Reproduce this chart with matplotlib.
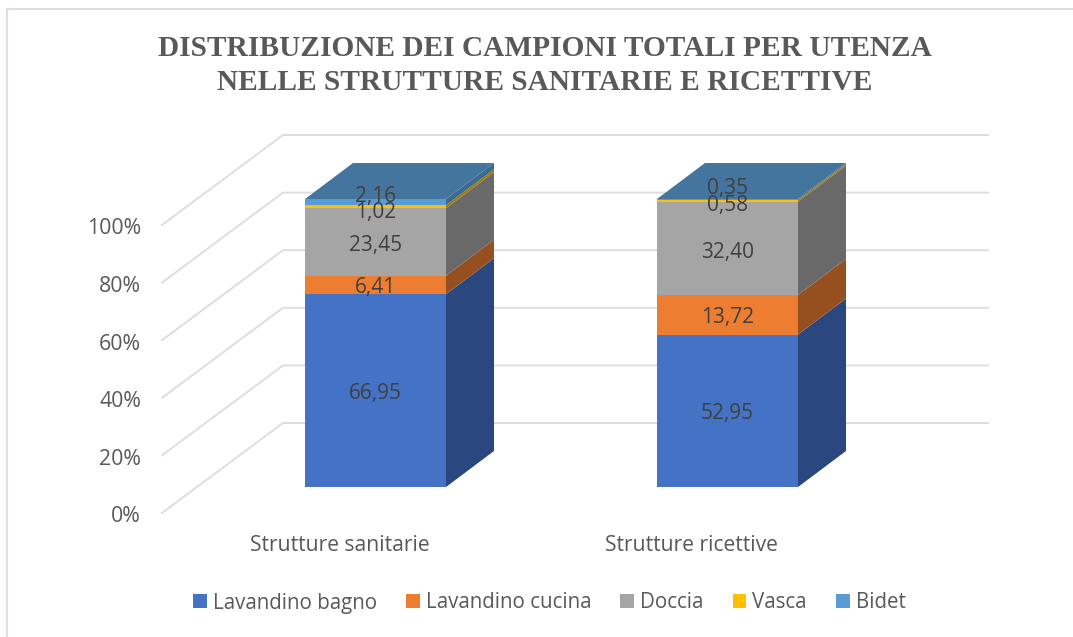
import numpy as np
import matplotlib
matplotlib.use('Agg')
import matplotlib.pyplot as plt
from matplotlib.patches import Polygon, Patch
from matplotlib.lines import Line2D

# dati
categorie = ['Strutture sanitarie', 'Strutture ricettive']
serie = ['Lavandino bagno', 'Lavandino cucina', 'Doccia', 'Vasca', 'Bidet']
sanitarie = [66.95, 6.41, 23.45, 1.02, 2.16]
ricettive = [52.95, 13.72, 32.40, 0.58, 0.35]
tick_perc = [0, 20, 40, 60, 80, 100]

colori = ['#4472C4', '#ED7D31', '#A5A5A5', '#FFC000', '#5B9BD5']
lati = ['#2A4780', '#964F1E', '#696969', '#A37B00', '#3D6A91']
colore_top = '#44759F'
griglia = '#DEDEDE'
testo = '#595959'

W, H = 1073, 637
plt.rcParams['font.family'] = ['Open Sans', 'DejaVu Sans']
fig = plt.figure(figsize=(W / 100, H / 100), dpi=100)
ax = fig.add_axes([0, 0, 1, 1])

# asse x: categoria 0 a 375.5 px, passo 352 px; asse y: 0% a 487 px, 2.88 px per punto
PX_X, PX_Y = 352, 2.88
ax.set_xlim(-375.5 / PX_X, (W - 375.5) / PX_X)
ax.set_ylim((487 - H) / PX_Y, 487 / PX_Y)
ax.axis('off')

def xd(px):
    return (px - 375.5) / PX_X

def yd(py):
    return (487 - py) / PX_Y

larghezza = 141 / PX_X
dx, dy = 48 / PX_X, 36 / PX_Y

# griglia 3D
for t in tick_perc:
    ax.plot([xd(162), xd(283), xd(988)],
            [yd(513) + t, yd(423) + t, yd(423) + t],
            color=griglia, lw=1.4, zorder=1, solid_joinstyle='miter')
    ax.text(xd(141), yd(517) + t, f'{t}%', ha='right', va='center',
            fontsize=15.3, color=testo)

# barre
for i, valori in enumerate([sanitarie, ricettive]):
    base = 0
    sx = i - larghezza / 2
    dx_f = i + larghezza / 2
    for v, c, l in zip(valori, colori, lati):
        ax.bar(i, v, bottom=base, width=larghezza, color=c, lw=0, zorder=3)
        ax.add_patch(Polygon([(dx_f, base), (dx_f + dx, base + dy),
                              (dx_f + dx, base + v + dy), (dx_f, base + v)],
                             closed=True, fc=l, ec='none', zorder=2))
        base += v
    ax.add_patch(Polygon([(sx, base), (dx_f, base), (dx_f + dx, base + dy),
                          (sx + dx, base + dy)],
                         closed=True, fc=colore_top, ec='none', zorder=2))

ax.text(xd(340), yd(545.5), categorie[0], ha='center', va='center', fontsize=15.2, color=testo)
ax.text(xd(691.5), yd(545.5), categorie[1], ha='center', va='center', fontsize=15.2, color=testo)

# etichette (le ultime sono spostate come nell'originale)
spost_san = [3, 3, 4, 6, -6]
spost_ric = [3, 3, 4, 5, -11]
for i, (valori, spost) in enumerate(zip([sanitarie, ricettive], [spost_san, spost_ric])):
    base = 0
    for v, s in zip(valori, spost):
        etich = f'{v:.2f}'.replace('.', ',')
        ax.text(i, base + v / 2 - s / PX_Y, etich, ha='center', va='center',
                fontsize=15, color='#404040', zorder=5)
        base += v

# titolo
ax.text(xd(545), yd(49), 'DISTRIBUZIONE DEI CAMPIONI TOTALI PER UTENZA', ha='center', va='center',
        fontsize=21.2, fontweight='bold', family='Liberation Serif', color=testo)
ax.text(xd(545), yd(82), 'NELLE STRUTTURE SANITARIE E RICETTIVE', ha='center', va='center',
        fontsize=21.2, fontweight='bold', family='Liberation Serif', color=testo)

# legenda
maniglie = [Patch(facecolor=c, label=s) for c, s in zip(colori, serie)]
ax.legend(handles=maniglie, loc='center', bbox_to_anchor=(549.5 / W, 1 - 603 / H), ncol=5,
          frameon=False, fontsize=14.8, labelcolor=testo, handlelength=0.67, handleheight=0.67,
          handletextpad=0.3, columnspacing=1.4)

# cornice
fig.add_artist(Line2D([7 / W, 7 / W], [0, 1 - 9 / H], color=griglia, lw=1.5))
fig.add_artist(Line2D([7 / W, 1], [1 - 9 / H, 1 - 9 / H], color=griglia, lw=1.5))

fig.savefig('out.png', dpi=100)
